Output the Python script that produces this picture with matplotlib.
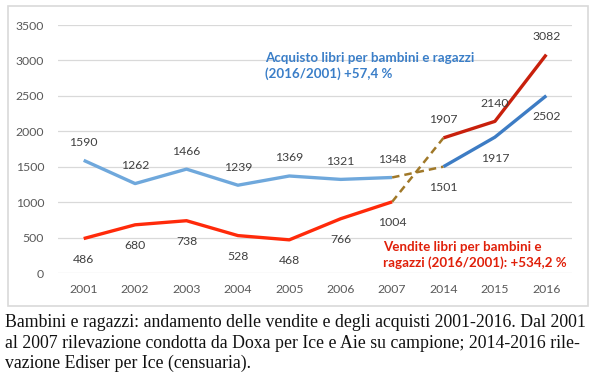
import matplotlib
matplotlib.use("Agg")
import matplotlib.pyplot as plt
from matplotlib.patches import Rectangle

years = ["2001", "2002", "2003", "2004", "2005", "2006", "2007", "2014", "2015", "2016"]
acquisti = [1590, 1262, 1466, 1239, 1369, 1321, 1348, 1501, 1917, 2502]
vendite = [486, 680, 738, 528, 468, 766, 1004, 1907, 2140, 3082]
yticks = [0, 500, 1000, 1500, 2000, 2500, 3000, 3500]
caption_lines = [
    "Bambini e ragazzi: andamento delle vendite e degli acquisti 2001-2016. Dal 2001",
    "al 2007 rilevazione condotta da Doxa per Ice e Aie su campione; 2014-2016 rile-",
    "vazione Ediser per Ice (censuaria).",
]

W, H = 598, 376
fig = plt.figure(figsize=(W / 100, H / 100), dpi=100)
fig.patch.set_facecolor("white")

def fx(px):
    return px / W

def fy(py):
    return 1 - py / H

# chart frame
fig.add_artist(Rectangle((fx(8), fy(306)), fx(580), (306 - 6) / H, transform=fig.transFigure,
                         facecolor="white", edgecolor="#D9D9D9", lw=1.2, zorder=0))

ax = fig.add_axes([fx(58), fy(273), fx(514), (273 - 25) / H])
ax.set_facecolor("none")
x = list(range(len(years)))
FONT = "Lato"
LS = 8.8

ax.set_ylim(0, 3500)
ax.set_xlim(-0.5, len(years) - 0.5)
ax.set_yticks(yticks)
ax.yaxis.grid(True, color="#D9D9D9", lw=0.9)
ax.set_axisbelow(True)
for s in ax.spines.values():
    s.set_visible(False)
ax.set_xticks(x)
ax.set_xticklabels(years)
ax.tick_params(length=0, labelsize=LS, labelcolor="#595959", pad=8)
ax.tick_params(axis="y", pad=10)
for lab in ax.get_xticklabels() + ax.get_yticklabels():
    lab.set_fontfamily(FONT)

lw = 2.4
# acquisti
ax.plot(x[:7], acquisti[:7], color="#6FA8DC", lw=lw, solid_capstyle="butt", zorder=3)
ax.plot(x[7:], acquisti[7:], color="#3D7CC4", lw=lw, solid_capstyle="butt", zorder=3)
ax.plot(x[6:8], acquisti[6:8], color="#A07828", lw=1.8, ls=(0, (3, 2)), zorder=2)
# vendite
ax.plot(x[:7], vendite[:7], color="#FF2A0A", lw=lw, solid_capstyle="butt", zorder=3)
ax.plot(x[7:], vendite[7:], color="#C8200C", lw=lw, solid_capstyle="butt", zorder=3)
ax.plot(x[6:8], vendite[6:8], color="#A07828", lw=1.8, ls=(0, (3, 2)), zorder=2)

# data labels
for i, v in enumerate(acquisti):
    dy = 13 if i < 7 else -15
    ax.annotate(str(v), (i, v), xytext=(0, dy), textcoords="offset points", ha="center",
                va="center", fontsize=LS, color="#404040", fontfamily=FONT)
for i, v in enumerate(vendite):
    dy = -15 if i < 7 else 13
    ax.annotate(str(v), (i, v), xytext=(0, dy), textcoords="offset points", ha="center",
                va="center", fontsize=LS, color="#404040", fontfamily=FONT)

fig.text(fx(265), fy(66), "Acquisto libri per bambini e ragazzi\n(2016/2001) +57,4 %",
         ha="left", va="center", fontsize=9.6, fontweight="bold", color="#3A7EC8",
         fontfamily=FONT, linespacing=1.3)
fig.text(fx(383), fy(255), "Vendite libri per bambini e\nragazzi (2016/2001): +534,2 %",
         ha="left", va="center", fontsize=9.6, fontweight="bold", color="#E0200A",
         fontfamily=FONT, linespacing=1.22)

for k, line in enumerate(caption_lines):
    fig.text(fx(5), fy(327 + 20.5 * k), line, ha="left", va="baseline", fontsize=12.8,
             color="#111111", fontfamily="Liberation Serif")

fig.savefig("out.png", dpi=100, facecolor="white")
